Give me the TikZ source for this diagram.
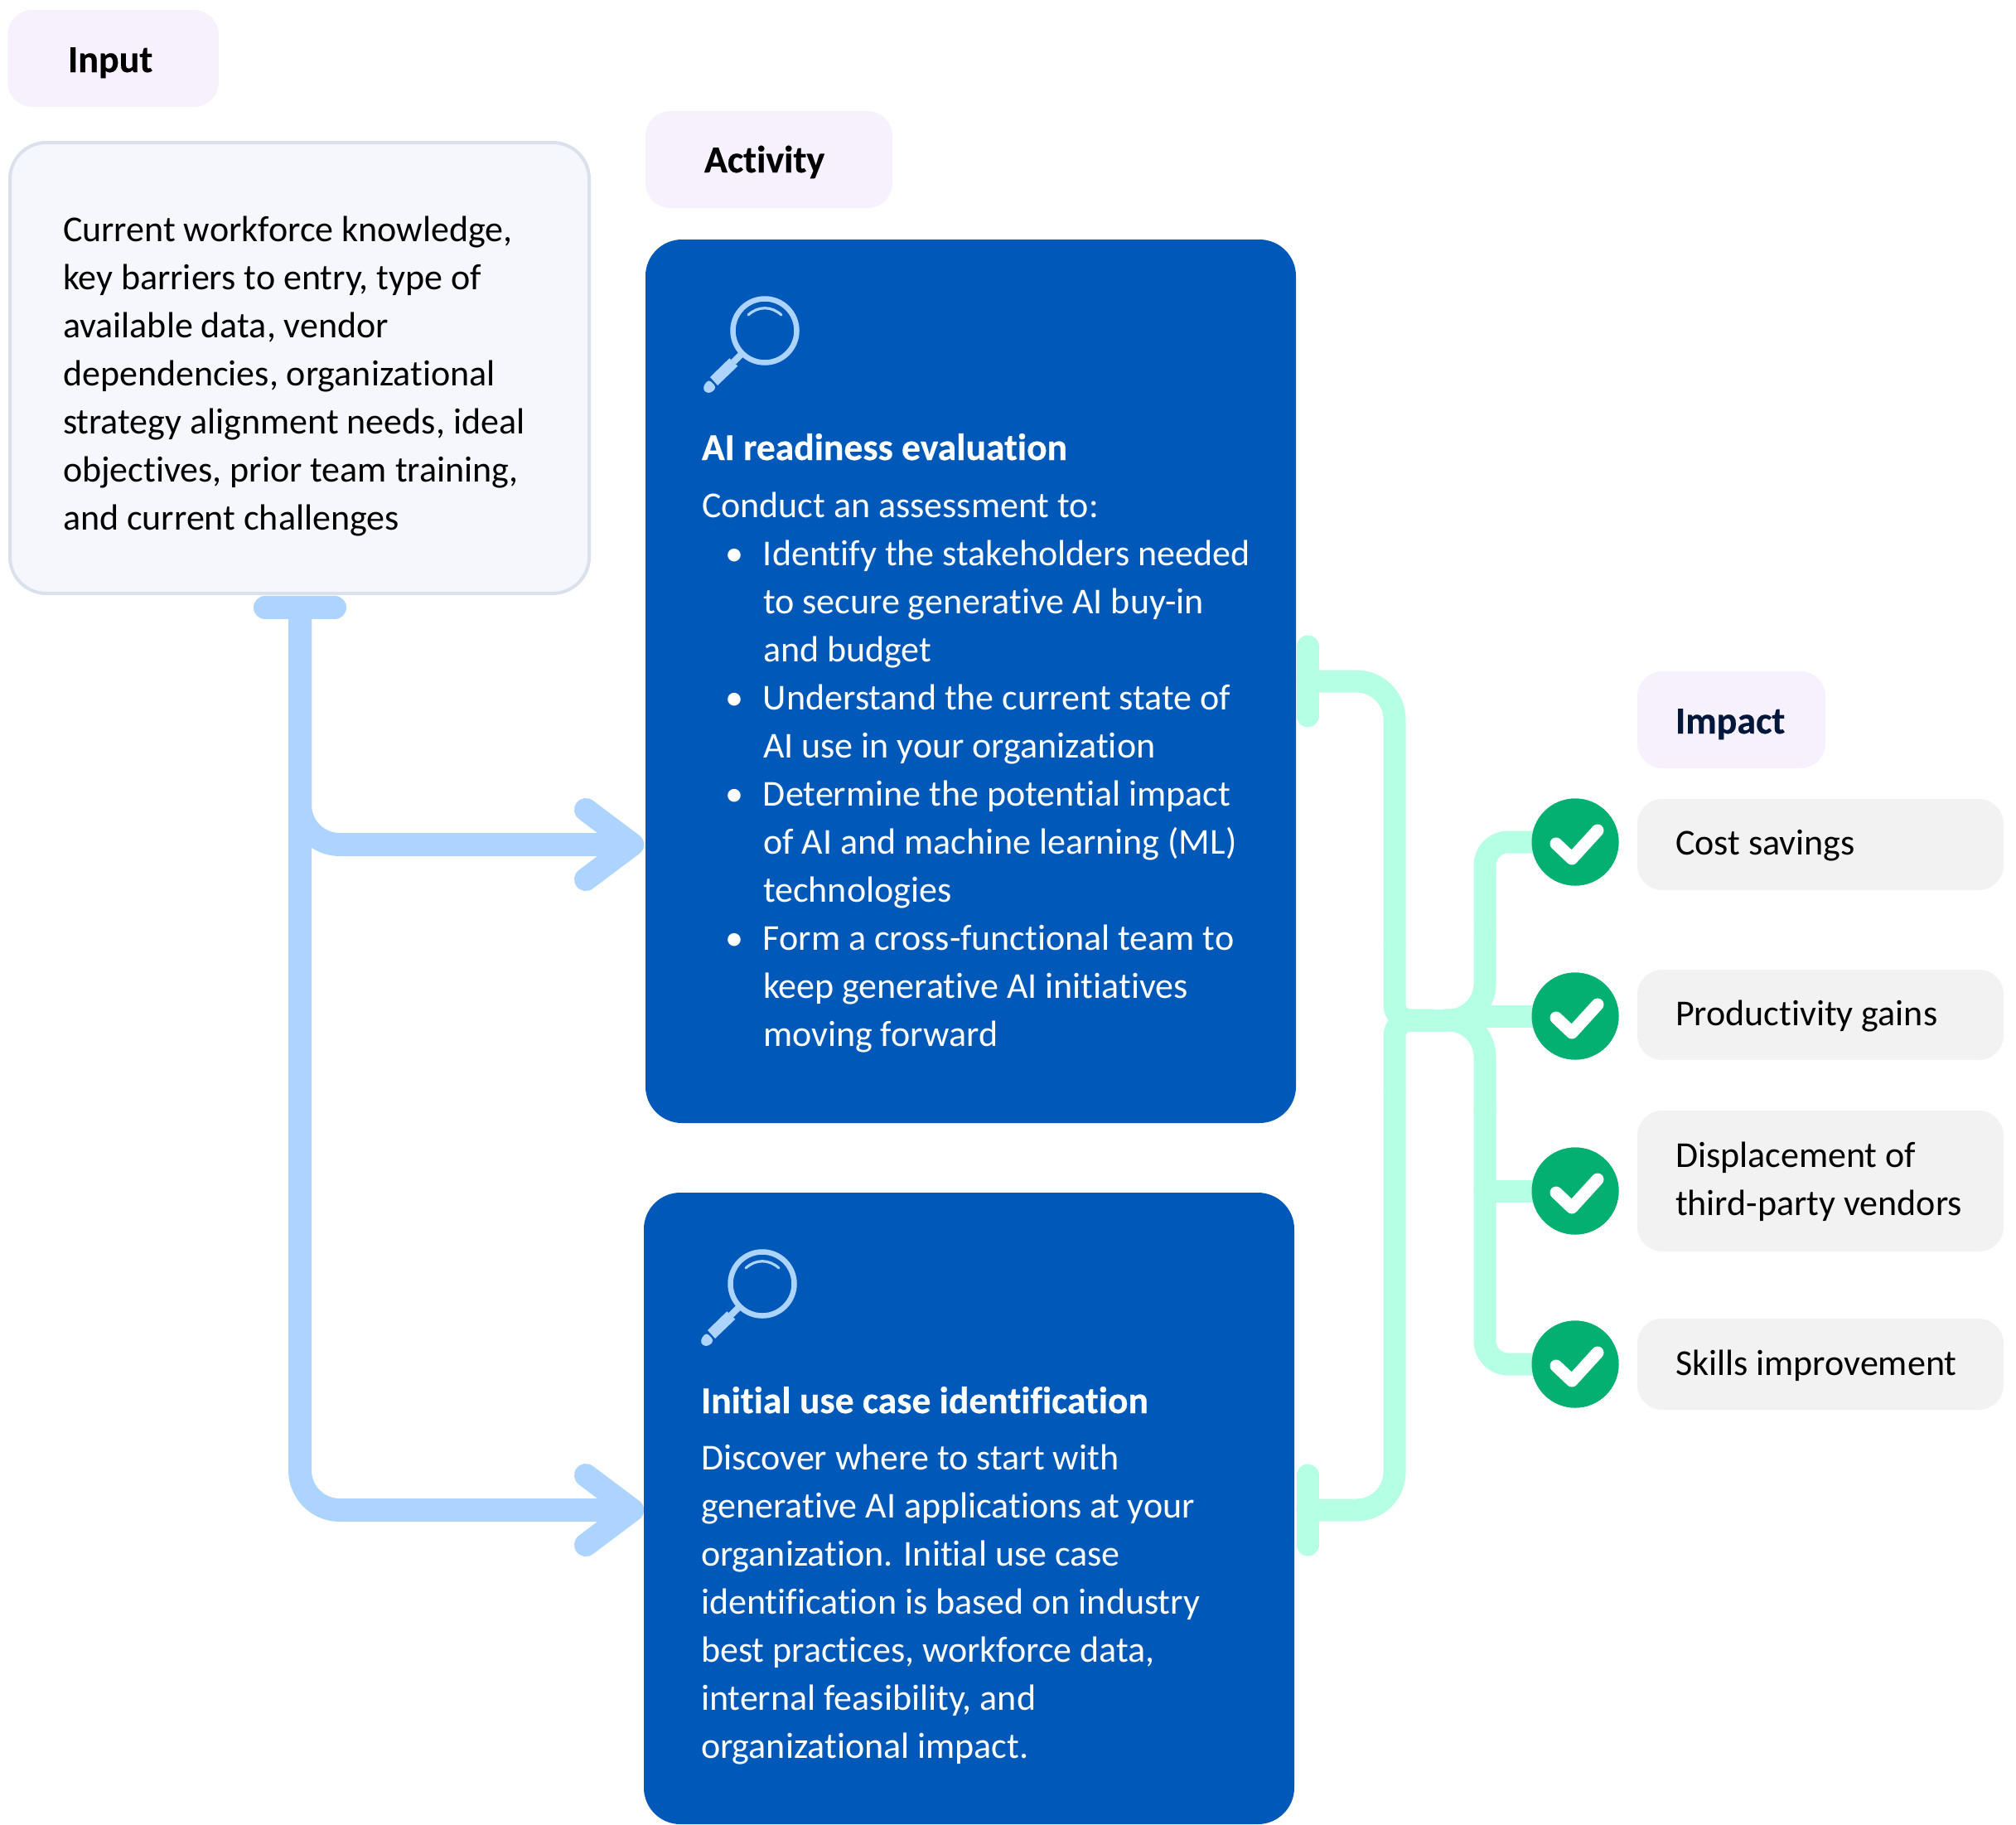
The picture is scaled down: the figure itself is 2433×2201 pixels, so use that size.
\documentclass[tikz,border=0pt]{standalone}
\usepackage{fontspec}
\setmainfont{Carlito}[Ligatures=NoCommon,BoldFeatures={FakeBold=0.4}]
\usetikzlibrary{calc}
\definecolor{bluebox}{HTML}{0059B8}
\definecolor{skyline}{HTML}{ADD4FF}
\definecolor{mintline}{HTML}{B5FFE4}
\definecolor{checkgreen}{HTML}{03AF71}
\definecolor{tagfill}{HTML}{F6F1FD}
\definecolor{pillfill}{HTML}{F2F2F2}
\definecolor{inputfill}{HTML}{F5F7FC}
\definecolor{inputedge}{HTML}{DAE1EC}
\definecolor{navytext}{HTML}{02183A}
\newcommand{\hb}{\rule{0pt}{40pt}}
\newcommand{\bul}{\llap{\textbullet\hspace{24pt}}}
\tikzset{
  x=1pt,y=-1pt,
  panel/.style={anchor=north west,inner sep=0pt,outer sep=0pt},
  tagbox/.style={panel,fill=tagfill,rounded corners=30pt},
  pillbox/.style={panel,fill=pillfill,rounded corners=30pt},
  inputbox/.style={panel,fill=inputfill,draw=inputedge,line width=4pt,rounded corners=44pt},
  bluepanel/.style={panel,fill=bluebox,rounded corners=44pt},
  txt/.style={panel,align=left,font=\fontsize{44}{58}\selectfont,text=black},
  hd/.style={txt,font=\fontsize{46}{58}\selectfont\bfseries},
  wtxt/.style={txt,text=white},
  wbold/.style={txt,font=\fontsize{45.6}{58}\selectfont\bfseries,text=white},
  skyconn/.style={draw=skyline,line width=28pt,line cap=round,line join=round,rounded corners=48pt},
  skytip/.style={draw=skyline,line width=28pt,line cap=round,line join=round},
  mintconn/.style={draw=mintline,line width=27pt,line cap=round,line join=round,rounded corners=46pt},
  checkdot/.style={circle,fill=checkgreen,minimum size=105pt,inner sep=0pt},
  checkmark/.style={draw=white,line width=15pt,line cap=round,line join=round},
  magicon/.pic={
    \draw[skyline,line width=6.5pt] (0,0) circle (38.5);
    \draw[skyline,line width=3.2pt,line cap=round] (-20,-19) .. controls (-8,-30) and (8,-30) .. (20,-19);
    \draw[skyline,line width=8pt] (-29,29) -- (-38,38);
    \fill[skyline] (-42.7,33.3) -- (-32.7,42.7) -- (-57,66) -- (-66,56) -- cycle;
    \fill[skyline,rounded corners=4pt] (-67.7,58.7) -- (-58.3,68) -- (-64,75) -- (-72,75) -- (-75,68) -- cycle;
  }
}
\begin{document}
\begin{tikzpicture}
\useasboundingbox (0,0) rectangle (2433,2201);
% panels
\node[tagbox,minimum width=255pt,minimum height=117pt] (tagInput) at (9,12) {};
\node[inputbox,minimum width=699pt,minimum height=544pt] (inputPanel) at (12,172) {};
\node[tagbox,minimum width=298pt,minimum height=117pt] (tagActivity) at (779,134) {};
\node[bluepanel,minimum width=785pt,minimum height=1066pt] (boxA) at (779,289) {};
\node[bluepanel,minimum width=785pt,minimum height=762pt] (boxB) at (777,1439) {};
\node[tagbox,minimum width=227pt,minimum height=117pt] (tagImpact) at (1976,810) {};
\node[pillbox,minimum width=442pt,minimum height=110pt] (pillA) at (1976,964) {};
\node[pillbox,minimum width=442pt,minimum height=109pt] (pillB) at (1976,1170) {};
\node[pillbox,minimum width=442pt,minimum height=170pt] (pillC) at (1976,1340) {};
\node[pillbox,minimum width=442pt,minimum height=110pt] (pillD) at (1976,1591) {};
% circles
\node[checkdot] (dotA) at (1901,1016) {};
\node[checkdot] (dotB) at (1901,1226) {};
\node[checkdot] (dotC) at (1901,1437) {};
\node[checkdot] (dotD) at (1901,1646) {};
% sky connectors
\coordinate (barL) at (320,733);
\coordinate (barR) at (404,733);
\coordinate (stem) at (362,733);
\coordinate (tipA) at (763,1019);
\coordinate (tipB) at (763,1822);
\draw[skyconn] (barL) -- (barR);
\draw[skyconn] (stem) -- (362,1019) -- (tipA);
\draw[skyconn] (stem) -- (362,1822) -- (tipB);
\draw[skytip] (707,977) -- (tipA) -- (707,1061);
\draw[skytip] (707,1780) -- (tipB) -- (707,1864);
% mint connectors
\coordinate (capA) at (1578,822);
\coordinate (capB) at (1578,1822);
\coordinate (hub) at (1745,1231);
\draw[mintconn] (1578,780) -- (1578,864);
\draw[mintconn] (1578,1780) -- (1578,1864);
\draw[mintconn,rounded corners=0pt] (1700,1231) -- (hub);
\draw[mintconn] (capA) -- (1683,822) -- (1683,1140);
\draw[mintconn] (capB) -- (1683,1822) -- (1683,1320);
\draw[mintconn,rounded corners=19pt,line cap=butt] (1683,1140) -- (1683,1231) -- (1730,1231);
\draw[mintconn,rounded corners=19pt,line cap=butt] (1683,1320) -- (1683,1231) -- (1730,1231);
\draw[mintconn,rounded corners=44pt] (hub) -- (1792,1231) -- (1792,1120);
\draw[mintconn,rounded corners=44pt] (hub) -- (1792,1231) -- (1792,1340);
\draw[mintconn,rounded corners=28pt] (1792,1120) -- (1792,1016) -- (dotA.center);
\draw[mintconn,rounded corners=28pt] (1792,1340) -- (1792,1646) -- (dotD.center);
\draw[mintconn,rounded corners=0pt] (1792,1226) -- (dotB.center);
\draw[mintconn,rounded corners=0pt] (1792,1437) -- (dotC.center);
% re-draw circles and checks
\node[checkdot] at (dotA) {};
\node[checkdot] at (dotB) {};
\node[checkdot] at (dotC) {};
\node[checkdot] at (dotD) {};
\foreach \d in {dotA,dotB,dotC,dotD}{
  \draw[checkmark] ($(\d)+(-23,2)$) -- ($(\d)+(-4,20)$) -- ($(\d)+(27,-14)$);
}
% icons
\pic at (923,399) {magicon};
\pic at (920,1549) {magicon};
% texts
\node[hd] (tInput) at (82,47) {\hb Input};
\node[hd] (tActivity) at (850,168) {\hb Activity};
\node[hd,text=navytext] (tImpact) at (2022,845) {\hb Impact};
\node[txt] (tInputBody) at (76,251) {\hb Current workforce knowledge,\\key barriers to entry, type of\\available data, vendor\\dependencies, organizational\\strategy alignment needs, ideal\\objectives, prior team training,\\and current challenges};
\node[wbold] (tAHead) at (847,515) {\hb AI readiness evaluation};
\node[wtxt] (tAIntro) at (847,584) {\hb Conduct an assessment to:};
\node[wtxt] (tAList) at (921,642) {\hb\bul Identify the stakeholders needed\\to secure generative AI buy-in\\and budget\\\bul Understand the current state of\\AI use in your organization\\\bul Determine the potential impact\\of AI and machine learning (ML)\\technologies\\\bul Form a cross-functional team to\\keep generative AI initiatives\\moving forward};
\node[wbold] (tBHead) at (846,1665) {\hb Initial use case identification};
\node[wtxt] (tBBody) at (846,1733) {\hb Discover where to start with\\generative AI applications at your\\organization. Initial use case\\identification is based on industry\\best practices, workforce data,\\internal feasibility, and\\organizational impact.};
\node[txt] (tPA) at (2022,991) {\hb Cost savings};
\node[txt] (tPB) at (2022,1197) {\hb Productivity gains};
\node[txt] (tPC) at (2022,1368) {\hb Displacement of\\third-party vendors};
\node[txt] (tPD) at (2022,1619) {\hb Skills improvement};
\end{tikzpicture}
\end{document}
